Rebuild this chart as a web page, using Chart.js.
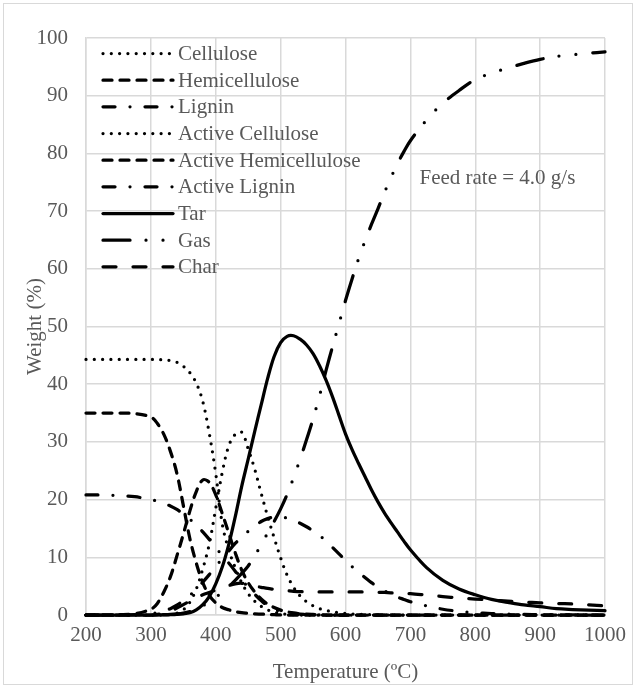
<!DOCTYPE html>
<html>
<head>
<meta charset="utf-8">
<script src="https://cdn.jsdelivr.net/npm/chart.js@4.4.1/dist/chart.umd.min.js"></script>
<style>
  html, body { margin: 0; padding: 0; background: #fff; }
  #wrap { position: relative; width: 637px; height: 688px; }
  #frame { position: absolute; left: 3px; top: 3px; width: 630px; height: 682px; border: 1px solid #d9d9d9; box-sizing: border-box; pointer-events: none; }
</style>
</head>
<body>
<div id="wrap">
  <canvas id="chart" width="637" height="688"></canvas>
  <div id="frame"></div>
</div>
<script>
// temperature grid (°C), shared by every series
const temps = [200, 225, 250, 275,
  300, 310, 320, 330, 340, 350, 360, 370, 380, 390,
  400, 410, 420, 430, 440, 450, 460, 470, 480, 490,
  500, 510, 520, 530, 540, 550, 560, 570, 580, 590,
  600, 610, 620, 630, 640, 650, 660, 670, 680, 690,
  700, 725, 750, 775, 800, 825, 850, 875, 900, 925, 950, 975, 1000];

// weight (%)
const cellulose = [44.3, 44.3, 44.3, 44.3,
  44.3, 44.3, 44.2, 44.1, 43.8, 43.1, 42.0, 40.2, 37.0, 31.5,
  24.5, 15.8, 11.3, 8.2, 5.6, 3.7, 2.4, 1.5, 0.9, 0.5,
  0.25, 0.12, 0.05, 0, 0, 0, 0, 0, 0, 0,
  0, 0, 0, 0, 0, 0, 0, 0, 0, 0,
  0, 0, 0, 0, 0, 0, 0, 0, 0, 0, 0, 0, 0];
const hemicellulose = [35.0, 35.0, 35.0, 34.9,
  34.3, 33.2, 31.3, 28.4, 24.6, 19.0, 13.3, 9.0, 5.6, 3.4,
  2.1, 1.3, 0.9, 0.6, 0.4, 0.3, 0.2, 0.15, 0.1, 0.05,
  0, 0, 0, 0, 0, 0, 0, 0, 0, 0,
  0, 0, 0, 0, 0, 0, 0, 0, 0, 0,
  0, 0, 0, 0, 0, 0, 0, 0, 0, 0, 0, 0, 0];
const lignin = [20.8, 20.8, 20.7, 20.5,
  20.0, 19.7, 19.3, 18.9, 18.3, 17.5, 16.6, 15.6, 14.4, 13.1,
  11.7, 10.3, 9.0, 7.6, 6.1, 4.8, 3.6, 2.5, 1.6, 1.0,
  0.6, 0.4, 0.25, 0.15, 0.1, 0.05, 0, 0, 0, 0,
  0, 0, 0, 0, 0, 0, 0, 0, 0, 0,
  0, 0, 0, 0, 0, 0, 0, 0, 0, 0, 0, 0, 0];
const activeCellulose = [0, 0, 0, 0,
  0, 0, 0, 0.1, 0.3, 0.9, 2.2, 4.5, 8.0, 12.3,
  18.5, 24.7, 29.3, 31.3, 31.7, 28.8, 25.3, 21.1, 17.1, 13.4,
  9.9, 6.9, 4.8, 3.3, 2.3, 1.6, 1.1, 0.8, 0.55, 0.38,
  0.26, 0.18, 0.12, 0.08, 0.05, 0.03, 0, 0, 0, 0,
  0, 0, 0, 0, 0, 0, 0, 0, 0, 0, 0, 0, 0];
const activeHemicellulose = [0, 0, 0.05, 0.2,
  1.0, 2.0, 4.0, 6.6, 10.2, 14.0, 18.0, 21.4, 23.4, 23.0,
  20.8, 17.6, 14.2, 10.8, 7.8, 5.6, 4.0, 2.8, 1.9, 1.3,
  0.85, 0.55, 0.35, 0.22, 0.14, 0.09, 0.05, 0, 0, 0,
  0, 0, 0, 0, 0, 0, 0, 0, 0, 0,
  0, 0, 0, 0, 0, 0, 0, 0, 0, 0, 0, 0, 0];
const activeLignin = [0, 0, 0, 0.05,
  0.2, 0.4, 0.7, 1.1, 1.7, 2.5, 3.4, 4.5, 5.7, 7.0,
  8.4, 9.8, 11.1, 12.4, 13.5, 14.5, 15.4, 16.2, 16.7, 17.0,
  17.0, 16.8, 16.4, 15.9, 15.3, 14.6, 13.8, 12.8, 11.7, 10.6,
  9.5, 8.4, 7.4, 6.5, 5.6, 4.9, 4.2, 3.6, 3.1, 2.7,
  2.3, 1.6, 1.0, 0.65, 0.4, 0.25, 0.15, 0.1, 0.06, 0.04, 0.02, 0.01, 0];
const tar = [0, 0, 0, 0,
  0, 0, 0.02, 0.05, 0.1, 0.2, 0.4, 0.9, 1.8, 3.2,
  5.4, 8.3, 12.2, 17.0, 22.3, 27.0, 31.8, 36.4, 41.0, 44.8,
  47.2, 48.3, 48.4, 47.8, 46.8, 45.3, 43.2, 40.7, 37.8, 34.6,
  31.4, 28.7, 26.3, 24.0, 21.7, 19.6, 17.7, 16.0, 14.4, 12.8,
  11.3, 8.2, 6.0, 4.5, 3.5, 2.7, 2.2, 1.75, 1.45, 1.1, 0.95, 0.85, 0.75];
const gas = [0, 0, 0, 0,
  0, 0.02, 0.05, 0.1, 0.2, 0.35, 0.6, 1.0, 1.6, 2.3,
  3.1, 3.9, 4.9, 6.0, 7.2, 8.5, 10.2, 12.2, 14.2, 16.2,
  18.4, 20.9, 23.8, 27.0, 30.4, 34.0, 38.0, 42.4, 46.5, 50.5,
  54.5, 58.2, 61.7, 64.8, 67.7, 70.4, 73.2, 75.8, 78.2, 80.3,
  82.2, 85.8, 88.7, 90.9, 92.8, 93.9, 94.8, 95.6, 96.3, 96.8, 97.1, 97.35, 97.6];
const charYield = [0, 0, 0, 0,
  0, 0.1, 0.3, 0.7, 1.2, 1.8, 2.4, 3.0, 3.5, 3.9,
  4.3, 4.7, 5.1, 5.4, 5.5, 5.3, 5.0, 4.8, 4.6, 4.45,
  4.3, 4.2, 4.1, 4.05, 4.0, 4.0, 4.0, 4.0, 4.0, 4.0,
  4.0, 4.0, 4.0, 4.0, 4.0, 3.95, 3.9, 3.85, 3.8, 3.75,
  3.7, 3.45, 3.2, 2.95, 2.75, 2.6, 2.4, 2.25, 2.1, 2.0, 1.9, 1.75, 1.6];

const seriesNames = ['Cellulose', 'Hemicellulose', 'Lignin', 'Active Cellulose',
  'Active Hemicellulose', 'Active Lignin', 'Tar', 'Gas', 'Char'];
const seriesValues = [cellulose, hemicellulose, lignin, activeCellulose,
  activeHemicellulose, activeLignin, tar, gas, charYield];
const noteText = 'Feed rate = 4.0 g/s';
const noteAt = [714, 75.6];

// line styles (Excel-like dash types)
const dotted = [0, 8.3];
const dashed = [9, 8];
const longDashDot = [12, 15, 0, 15];
const longDashDotDot = [27, 16, 0, 17, 0, 17];
const longDash = [13, 17];
const dashes = [dotted, dashed, longDashDot, dotted, dashed, longDashDot, [], longDashDotDot, longDash];

const grey = '#595959';
const serif = "'Liberation Serif', 'Times New Roman', serif";

function toPoints(vals) {
    return temps.map(function(t, i) { return { x: t, y: vals[i] }; });
}

const datasets = seriesNames.map(function(name, i) {
    return {
        label: name,
        data: toPoints(seriesValues[i]),
        borderColor: '#000000',
        borderWidth: 3.25,
        borderDash: dashes[i],
        borderCapStyle: 'round',
        borderJoinStyle: 'round',
        pointRadius: 0,
        tension: 0.35,
        fill: false,
        clip: 8
    };
});

// legend drawn inside the plot, top-left
const insideLegend = {
    id: 'insideLegend',
    afterDatasetsDraw(chart) {
        const ctx = chart.ctx;
        const area = chart.chartArea;
        ctx.save();
        chart.data.datasets.forEach(function(ds, i) {
            const y = area.top + 15.5 + i * 26.67;
            ctx.beginPath();
            ctx.setLineDash(ds.borderDash);
            ctx.lineWidth = ds.borderWidth;
            ctx.lineCap = 'round';
            ctx.strokeStyle = '#000000';
            ctx.moveTo(area.left + 17, y);
            ctx.lineTo(area.left + 87, y);
            ctx.stroke();
            ctx.setLineDash([]);
            ctx.fillStyle = grey;
            ctx.font = '21px ' + serif;
            ctx.textBaseline = 'middle';
            ctx.textAlign = 'left';
            ctx.fillText(ds.label, area.left + 92, y + 1);
        });
        ctx.restore();
    }
};

const feedNote = {
    id: 'feedNote',
    afterDatasetsDraw(chart) {
        const ctx = chart.ctx;
        const x = chart.scales.x.getPixelForValue(noteAt[0]);
        const y = chart.scales.y.getPixelForValue(noteAt[1]);
        ctx.save();
        ctx.fillStyle = grey;
        ctx.font = '21px ' + serif;
        ctx.textBaseline = 'middle';
        ctx.textAlign = 'left';
        ctx.fillText(noteText, x, y);
        ctx.restore();
    }
};

new Chart(document.getElementById('chart'), {
    type: 'line',
    data: { datasets: datasets },
    plugins: [insideLegend, feedNote],
    options: {
        responsive: false,
        animation: false,
        layout: { padding: { top: 38, right: 32, left: 0, bottom: 0 } },
        plugins: {
            legend: { display: false },
            tooltip: { enabled: false }
        },
        scales: {
            x: {
                type: 'linear',
                min: 200,
                max: 1000,
                ticks: {
                    stepSize: 100, color: grey, padding: 8, font: { family: serif, size: 21 },
                    callback: function(value) { return String(value); }
                },
                grid: { color: '#d9d9d9', lineWidth: 1.5, drawTicks: false },
                border: { color: '#d9d9d9', width: 1.5 },
                title: { display: true, text: 'Temperature (ºC)', color: grey, padding: { top: 0, bottom: 3 }, font: { family: serif, size: 21 } },
                afterFit: function(scale) { scale.height = 73; }
            },
            y: {
                min: 0,
                max: 100,
                ticks: { stepSize: 10, color: grey, padding: 18, font: { family: serif, size: 21 } },
                grid: { color: '#d9d9d9', lineWidth: 1.5, drawTicks: false },
                border: { color: '#d9d9d9', width: 1.5 },
                title: { display: true, text: 'Weight (%)', color: grey, padding: { top: 23, bottom: 0 }, font: { family: serif, size: 21 } },
                afterFit: function(scale) { scale.width = 86; }
            }
        }
    }
});
</script>
</body>
</html>
